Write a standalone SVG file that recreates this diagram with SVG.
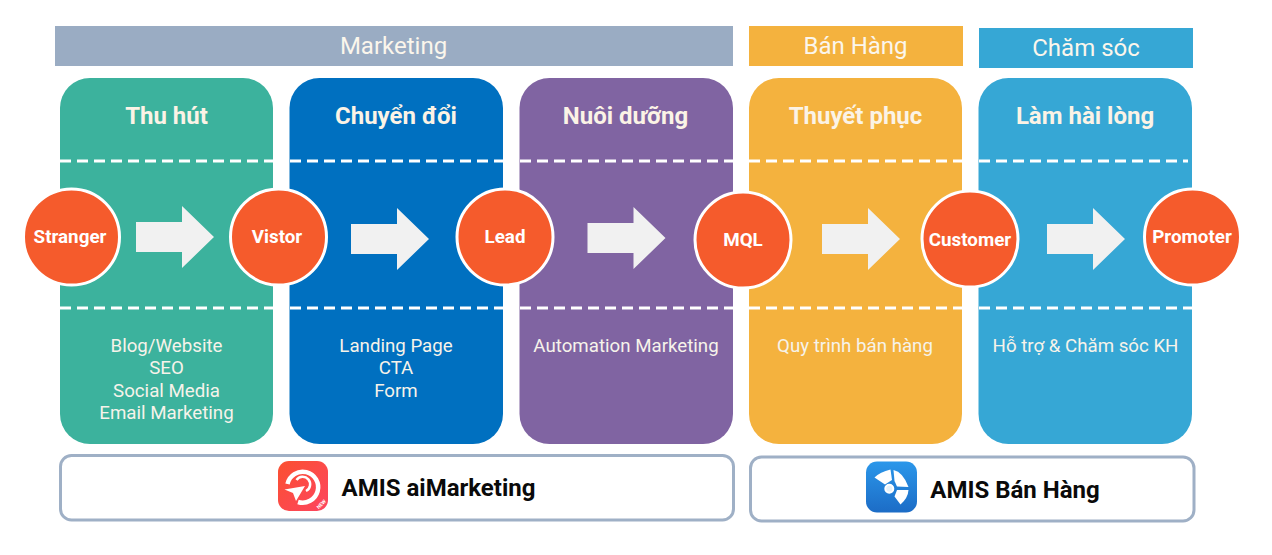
<svg xmlns="http://www.w3.org/2000/svg" width="1272" height="555" viewBox="0 0 1272 555">
<defs>
<linearGradient id="gr" x1="0" y1="0" x2="1" y2="1"><stop offset="0" stop-color="#fb5030"/><stop offset="1" stop-color="#fd4560"/></linearGradient>
<linearGradient id="gb" x1="0" y1="0" x2="0" y2="1"><stop offset="0" stop-color="#2b97ea"/><stop offset="1" stop-color="#1c6cc6"/></linearGradient>
<polygon id="arrow" points="0,-15 46,-15 46,-31 78,0 46,31 46,15 0,15" fill="#f1f1f1"/>
</defs>
<style>
text{font-family:Roboto,"Liberation Sans",sans-serif;text-anchor:middle}
.band{font-size:24px;fill:#fbf6ec}
.h{font-size:24px;font-weight:700;fill:#fbf3e6}
.b{font-size:18.7px;fill:#f6f3ea}
.c{font-size:18.8px;font-weight:700;fill:#fff}
.node{fill:#f55b2c;stroke:#fff;stroke-width:3}
.d{stroke:#fff;stroke-width:3;stroke-dasharray:11 6;fill:none}
.box{fill:#fff;stroke:#9fb0c6;stroke-width:3}
.t{font-size:24px;font-weight:700;fill:#0a0a0a}
.new{font-size:5px;font-weight:700;fill:#fff}
</style>
<g id="bands">
<rect x="55" y="26" width="678" height="40" fill="#9aacc3"/><text class="band" x="393.500" y="54">Marketing</text>
<rect x="749" y="26" width="214" height="40" fill="#f4b23e"/><text class="band" x="855.500" y="54">Bán Hàng</text>
<rect x="979" y="28" width="214" height="40" fill="#36a7d5"/><text class="band" x="1086" y="56">Chăm sóc</text>
</g>
<g id="col-thu-hut">
<rect x="60" y="78" width="213" height="366" rx="30" fill="#3cb29d"/>
<text class="h" x="166.500" y="124">Thu hút</text>
<text class="b" x="166.500" y="352">Blog/Website</text><text class="b" x="166.500" y="374">SEO</text><text class="b" x="166.500" y="397">Social Media</text><text class="b" x="166.500" y="419">Email Marketing</text>
</g>
<g id="col-chuyen-doi">
<rect x="289.500" y="78" width="213.500" height="366" rx="30" fill="#0070c0"/>
<text class="h" x="396" y="124">Chuyển đổi</text>
<text class="b" x="396" y="352">Landing Page</text><text class="b" x="396" y="374">CTA</text><text class="b" x="396" y="397">Form</text>
</g>
<g id="col-nuoi-duong">
<rect x="519.500" y="78" width="213.500" height="366" rx="30" fill="#8064a2"/>
<text class="h" x="625.500" y="124">Nuôi dưỡng</text>
<text class="b" x="626" y="352">Automation Marketing</text>
</g>
<g id="col-thuyet-phuc">
<rect x="749" y="78" width="213" height="366" rx="30" fill="#f4b23e"/>
<text class="h" x="855.500" y="124">Thuyết phục</text>
<text class="b" x="855" y="352">Quy trình bán hàng</text>
</g>
<g id="col-lam-hai-long">
<rect x="978.500" y="78" width="213.500" height="366" rx="30" fill="#36a7d5"/>
<text class="h" x="1085" y="124">Làm hài lòng</text>
<text class="b" x="1085.500" y="352">Hỗ trợ &amp; Chăm sóc KH</text>
</g>
<g id="connectors">
<path class="d" d="M60 161H273M290 161H503M520 161H733M749 161H962M979 161H1188"/>
<path class="d" d="M60 308H273M290 308H503M520 308H733M749 308H962M979 308H1192"/>
<use href="#arrow" x="136" y="237"/>
<use href="#arrow" x="351" y="239"/>
<use href="#arrow" x="587.500" y="238"/>
<use href="#arrow" x="822" y="239"/>
<use href="#arrow" x="1047" y="239"/>
</g>
<g id="stranger"><circle class="node" cx="71.500" cy="237" r="48"/><text class="c" x="70" y="243">Stranger</text></g>
<g id="vistor"><circle class="node" cx="278.500" cy="237" r="48"/><text class="c" x="277" y="243">Vistor</text></g>
<g id="lead"><circle class="node" cx="505" cy="237" r="48"/><text class="c" x="505" y="243">Lead</text></g>
<g id="mql"><circle class="node" cx="743" cy="240" r="48"/><text class="c" x="743" y="246">MQL</text></g>
<g id="customer"><circle class="node" cx="970" cy="239" r="48"/><text class="c" x="970" y="246">Customer</text></g>
<g id="promoter"><circle class="node" cx="1192.500" cy="237" r="48"/><text class="c" x="1192" y="243">Promoter</text></g>
<g id="amis-aimarketing">
<rect class="box" x="60.500" y="455.500" width="673" height="64.500" rx="11"/>
<rect x="278" y="461" width="50" height="50" rx="11" fill="url(#gr)"/>
<g fill="none" stroke="#fff">
<path d="M287.500 484A15.500 15.500 0 1 1 298 502" stroke-width="4.500"/>
<path d="M296.500 480A7.500 7.500 0 1 1 306 491" stroke-width="2.500"/>
</g>
<path d="M284.500 489.500L305 486L296 501L293 493Z" fill="#fff"/>
<text class="new" transform="translate(322.500 505.500) rotate(-45)">NEW</text>
<text class="t" x="438.500" y="496">AMIS aiMarketing</text>
</g>
<g id="amis-ban-hang">
<rect class="box" x="750.500" y="457" width="443.500" height="64" rx="11"/>
<rect x="866" y="461.500" width="51" height="51" rx="11" fill="url(#gb)"/>
<circle cx="889.300" cy="488.700" r="4" fill="#e6f2fb" stroke="#fff" stroke-width="2"/>
<g fill="#fff">
<path d="M874.500 477.500Q880 472 890.500 469.500L892 480L885 484.500Z"/>
<path d="M893.500 470Q903 472 908.500 487L897 486.500L894.500 481Z"/>
<path d="M908.500 490Q908 498 900.500 504.500L894.500 496.500L897 490Z"/>
</g>
<text class="t" x="1015" y="498">AMIS Bán Hàng</text>
</g>
</svg>
